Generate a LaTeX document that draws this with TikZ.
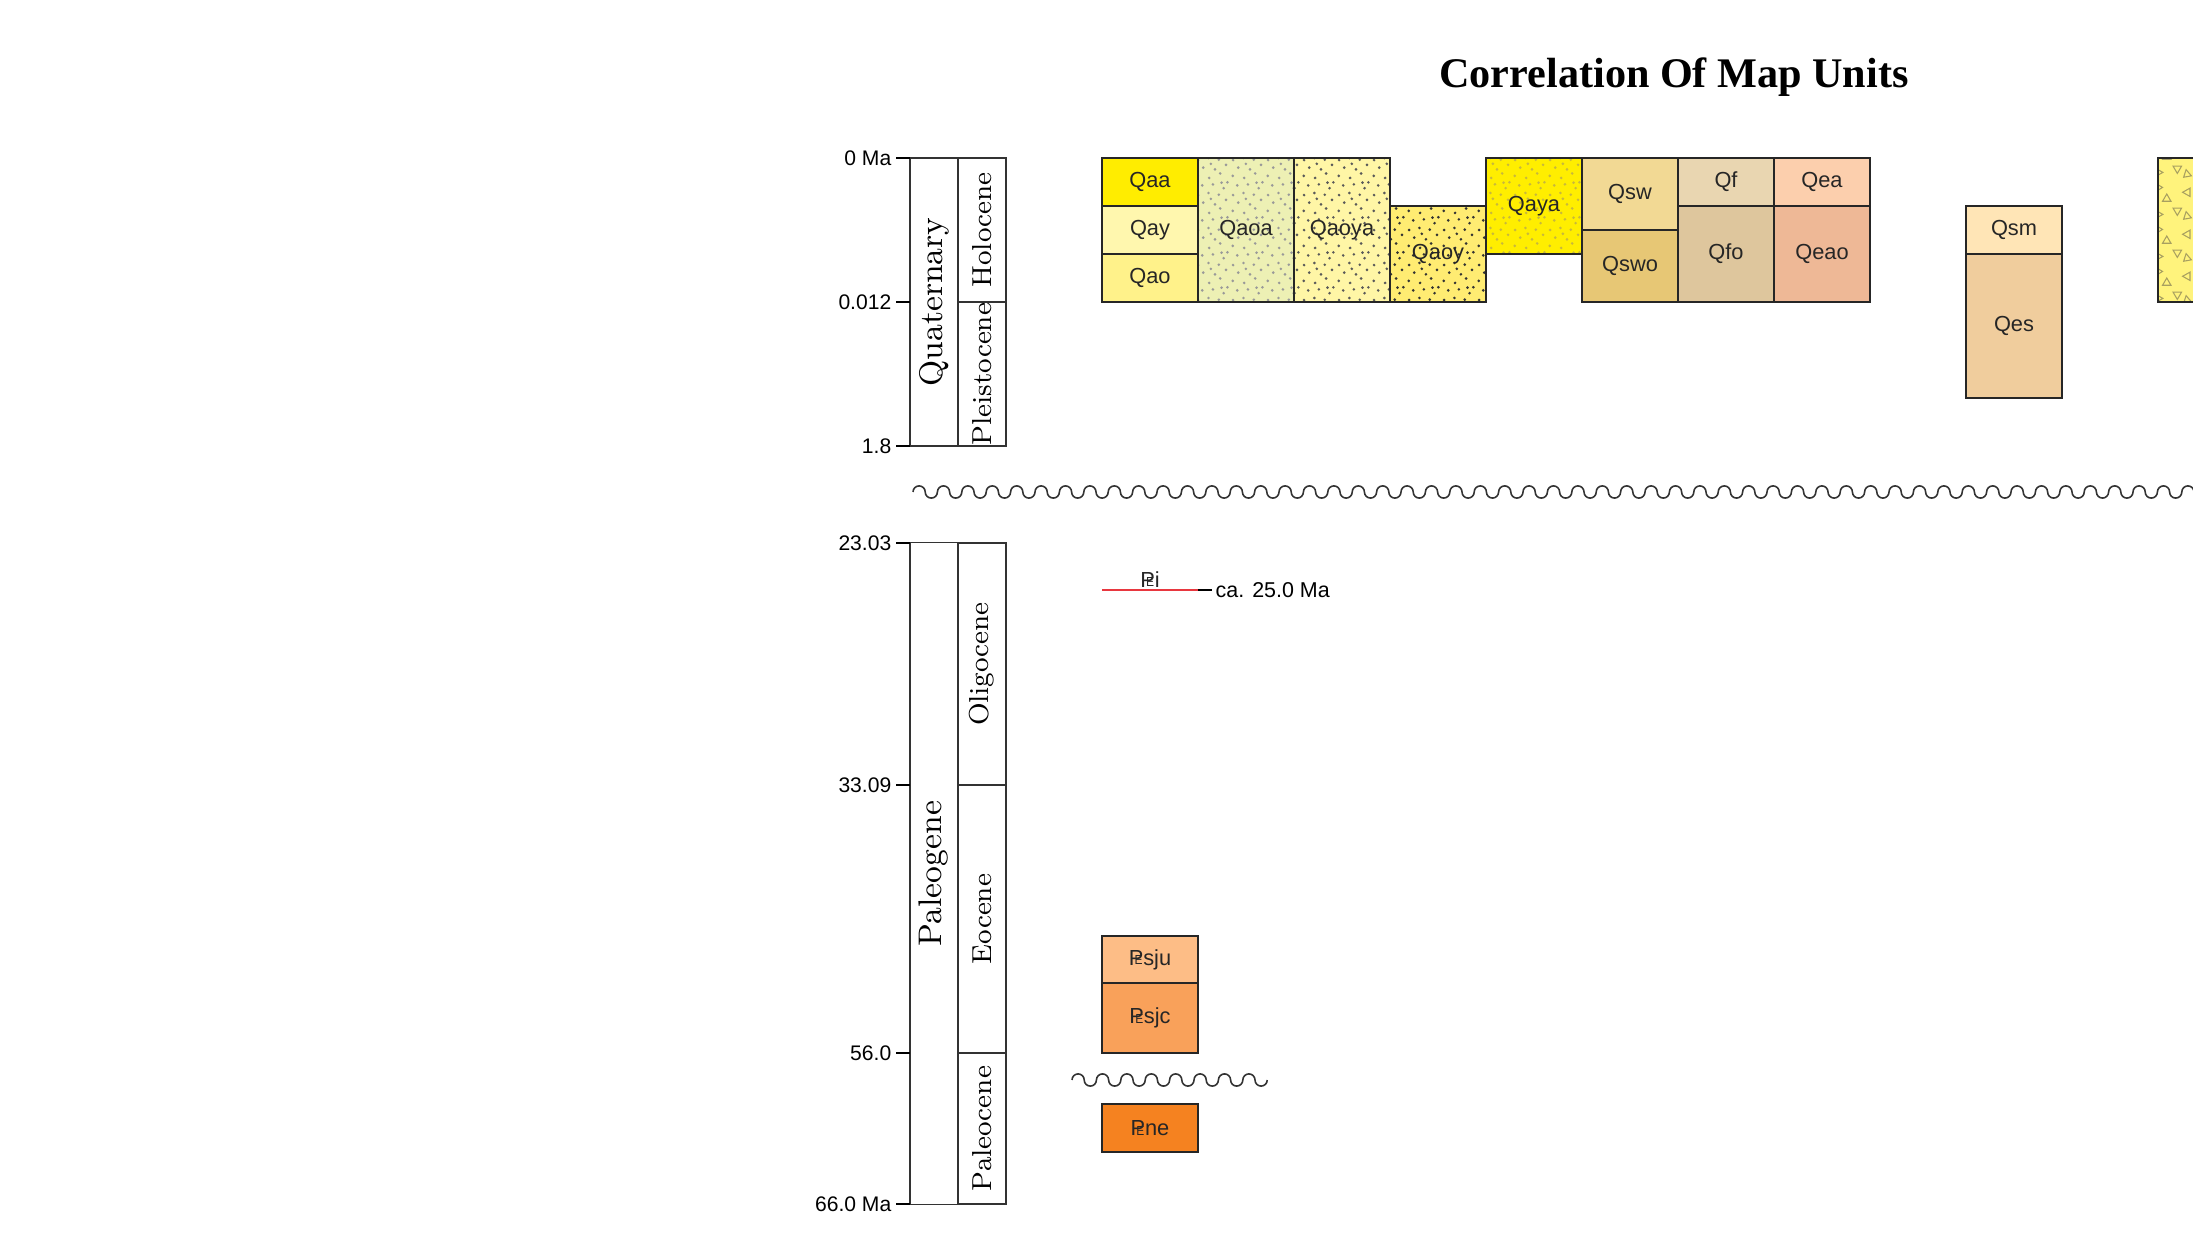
\documentclass[tikz,border=0pt]{standalone}
\usepackage{fontspec}
\usepackage{graphicx}
\usepackage{tikz}
\usetikzlibrary{patterns}

\newfontfamily\unitfont{Liberation Sans}
\newfontfamily\headfont{Liberation Serif}

\definecolor{cQaa}{HTML}{FFED00}
\definecolor{cQay}{HTML}{FFF7AE}
\definecolor{cQao}{HTML}{FFF28A}
\definecolor{cQaoa}{HTML}{EDF0B4}
\definecolor{cQaoya}{HTML}{FFF6A6}
\definecolor{cQaoy}{HTML}{FFEC72}
\definecolor{cQaya}{HTML}{FFEE00}
\definecolor{cQsw}{HTML}{F2D994}
\definecolor{cQswo}{HTML}{E7C775}
\definecolor{cQf}{HTML}{E9D6B1}
\definecolor{cQfo}{HTML}{DEC69D}
\definecolor{cQea}{HTML}{FCCFAD}
\definecolor{cQeao}{HTML}{EEB896}
\definecolor{cQsm}{HTML}{FFE5B6}
\definecolor{cQes}{HTML}{F0CD9D}
\definecolor{cQc}{HTML}{FFF37C}
\definecolor{cPsju}{HTML}{FDBD86}
\definecolor{cPsjc}{HTML}{F9A15A}
\definecolor{cPne}{HTML}{F58220}
\definecolor{cRed}{HTML}{E8373F}
\definecolor{cDotY}{HTML}{C8B83C}
\definecolor{cTri}{HTML}{A8A060}

% stippled sand
\pgfdeclarepatternformonly{stipple}{\pgfpointorigin}{\pgfpoint{10pt}{10pt}}{\pgfpoint{10pt}{10pt}}{%
  \foreach \px/\py in {0.8/1.2, 4.1/0.6, 7.3/1.9, 2.4/3.6, 5.8/3.1, 9.0/4.4, 0.9/5.8,
                       3.9/6.4, 6.9/5.9, 2.1/8.6, 5.2/8.9, 8.3/7.8, 9.4/9.5, 4.6/4.7, 7.7/9.4}{
    \pgfpathcircle{\pgfpoint{\px pt}{\py pt}}{0.42pt}
  }
  \pgfusepath{fill}}

% angular clasts
\pgfdeclarepatternformonly{clasts}{\pgfpointorigin}{\pgfpoint{12pt}{12pt}}{\pgfpoint{12pt}{12pt}}{%
  \pgfsetlinewidth{0.3pt}
  \pgfpathmoveto{\pgfpoint{1pt}{1pt}}\pgflineto{\pgfpoint{1pt}{3.4pt}}\pgflineto{\pgfpoint{3.1pt}{2.2pt}}\pgfpathclose
  \pgfpathmoveto{\pgfpoint{6pt}{4pt}}\pgflineto{\pgfpoint{8.4pt}{4pt}}\pgflineto{\pgfpoint{7.2pt}{1.9pt}}\pgfpathclose
  \pgfpathmoveto{\pgfpoint{3pt}{6pt}}\pgflineto{\pgfpoint{5.4pt}{6pt}}\pgflineto{\pgfpoint{4.2pt}{8.1pt}}\pgfpathclose
  \pgfpathmoveto{\pgfpoint{10.8pt}{7.4pt}}\pgflineto{\pgfpoint{10.8pt}{9.8pt}}\pgflineto{\pgfpoint{8.7pt}{8.6pt}}\pgfpathclose
  \pgfpathmoveto{\pgfpoint{1.2pt}{8.9pt}}\pgflineto{\pgfpoint{1.2pt}{11.1pt}}\pgflineto{\pgfpoint{3pt}{10pt}}\pgfpathclose
  \pgfpathmoveto{\pgfpoint{9pt}{0.8pt}}\pgflineto{\pgfpoint{11.2pt}{1.2pt}}\pgflineto{\pgfpoint{9.7pt}{3pt}}\pgfpathclose
  \pgfusepath{stroke}}

% Paleogene symbol
\newcommand{\Pg}{P\kern-0.4em\raisebox{0.02ex}{\scalebox{0.55}[0.6]{E}}\kern0.03em}

\begin{document}
\begin{tikzpicture}[x=0.01cm, y=-0.01cm]
	\tikzstyle{Unit}   = [draw=black!85, line width=0.45pt, minimum width=0.96cm, inner sep=0pt, text=black!85, font=\unitfont\fontsize{6.2}{7}\selectfont]
	\tikzstyle{Sand}   = [pattern=stipple]
	\tikzstyle{Period} = [draw=black!80, line width=0.35pt, rotate=90, minimum height=0.48cm, inner sep=0pt, font=\fontsize{9.3}{10}\selectfont]
	\tikzstyle{Epoch}  = [Period, font=\fontsize{7.8}{9}\selectfont]
	\tikzstyle{Age}    = [anchor=east, inner sep=0pt, font=\unitfont\fontsize{6}{7}\selectfont]
	\tikzstyle{Tick}   = [line width=0.6pt]
	\tikzstyle{Wave}   = [line width=0.45pt, black!80]

	\path[use as bounding box, fill=white] (0,0) rectangle (2193,1234);
	\clip (0,0) rectangle (2193,1234);

	\node (title) at (1674,77) {\headfont\bfseries\fontsize{12}{14}\selectfont Correlation Of Map Units};

	% time scale
	\node (quat) at (934,302) [Period, minimum width=2.88cm] {Quaternary};
	\node (holo) at (982,230) [Epoch, minimum width=1.44cm] {Holocene};
	\node (pleis) at (982,374) [Epoch, minimum width=1.44cm] {Pleistocene};
	\node (paleog) at (934,873.5) [Period, minimum width=6.61cm] {Paleogene};
	\node (olig) at (982,664) [Epoch, minimum width=2.42cm] {Oligocene};
	\node (eoc) at (982,919) [Epoch, minimum width=2.68cm] {Eocene};
	\node (paleoc) at (982,1128.5) [Epoch, minimum width=1.51cm] {Paleocene};

	\foreach \i/\y/\lab in {1/158/0 Ma, 2/302/0.012, 3/446/1.8, 4/543/23.03, 5/785/33.09, 6/1053/56.0, 7/1204/66.0 Ma} {
		\node (age\i) at (892,\y) [Age] {\lab};
		\coordinate (tk\i) at (910,\y);
		\draw [Tick] (age\i.east) ++(4,0) -- (tk\i);
	}

	% Quaternary units
	\node (qaa) at (1150,182) [Unit, fill=cQaa, minimum height=0.48cm] {Qaa};
	\node (qay) at (1150,230) [Unit, fill=cQay, minimum height=0.48cm] {Qay};
	\node (qao) at (1150,278) [Unit, fill=cQao, minimum height=0.48cm] {Qao};
	\node (qaoa) at (1246,230) [Unit, preaction={fill=cQaoa}, Sand, pattern color=black!40, minimum height=1.44cm] {Qaoa};
	\node (qaoya) at (1342,230) [Unit, preaction={fill=cQaoya}, Sand, pattern color=black!65, minimum height=1.44cm] {Qaoya};
	\node (qaoy) at (1438,254) [Unit, preaction={fill=cQaoy}, Sand, pattern color=black!80, minimum height=0.96cm] {Qaoy};
	\node (qaya) at (1534,206) [Unit, preaction={fill=cQaya}, Sand, pattern color=cDotY, minimum height=0.96cm] {Qaya};
	\node (qsw) at (1630,194) [Unit, fill=cQsw, minimum height=0.72cm] {Qsw};
	\node (qswo) at (1630,266) [Unit, fill=cQswo, minimum height=0.72cm] {Qswo};
	\node (qf) at (1726,182) [Unit, fill=cQf, minimum height=0.48cm] {Qf};
	\node (qfo) at (1726,254) [Unit, fill=cQfo, minimum height=0.96cm] {Qfo};
	\node (qea) at (1822,182) [Unit, fill=cQea, minimum height=0.48cm] {Qea};
	\node (qeao) at (1822,254) [Unit, fill=cQeao, minimum height=0.96cm] {Qeao};
	\node (qsm) at (2014,230) [Unit, fill=cQsm, minimum height=0.48cm] {Qsm};
	\node (qes) at (2014,326) [Unit, fill=cQes, minimum height=1.44cm] {Qes};
	\node (qc) at (2206,230) [Unit, preaction={fill=cQc}, pattern=clasts, pattern color=cTri, minimum height=1.44cm] {Qc};

	% unconformity
	\coordinate (gap-w) at (913,492);
	\draw [Wave] (gap-w) \foreach \k in {1,...,55} { arc[start angle=180, end angle=360, radius=6.1] arc[start angle=180, end angle=0, radius=6.1] };

	% Paleogene units
	\coordinate (pi-w) at (1102,590);
	\coordinate (pi-e) at (1198,590);
	\coordinate (pi-t) at (1212,590);
	\draw [cRed, line width=0.5pt] (pi-w) -- (pi-e) node [midway, above, inner sep=0.6pt, text=black!85, font=\unitfont\fontsize{6.2}{7}\selectfont] (pi) {\Pg i};
	\draw [Tick] (pi-e) -- (pi-t);
	\node (pi-age) at (1215,590) [Age, anchor=west, font=\unitfont\fontsize{6.1}{7}\selectfont] {ca. 25.0 Ma};

	\node (psju) at (1150,959.5) [Unit, fill=cPsju, minimum height=0.47cm] {\Pg sju};
	\node (psjc) at (1150,1018) [Unit, fill=cPsjc, minimum height=0.70cm] {\Pg sjc};

	\coordinate (hiat-w) at (1072,1080);
	\draw [Wave] (hiat-w) \foreach \k in {1,...,8} { arc[start angle=180, end angle=360, radius=6.1] arc[start angle=180, end angle=0, radius=6.1] };

	\node (pne) at (1150,1128) [Unit, fill=cPne, minimum height=0.48cm] {\Pg ne};
\end{tikzpicture}
\end{document}
